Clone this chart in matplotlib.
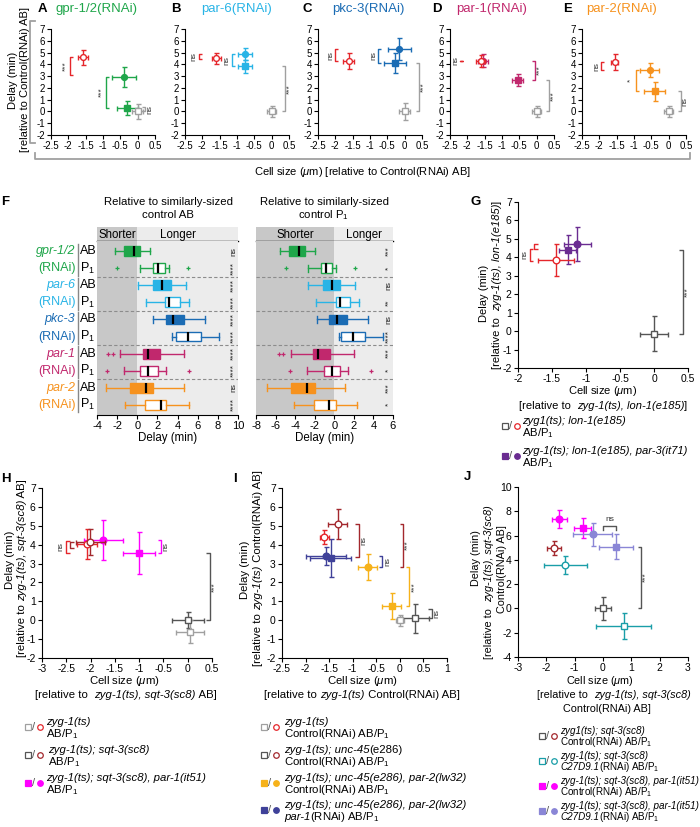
import matplotlib
matplotlib.use("Agg")
import matplotlib.pyplot as plt
from matplotlib.ticker import FuncFormatter

plt.rcParams["font.family"] = ["Liberation Sans", "DejaVu Sans"]
plt.rcParams["mathtext.fontset"] = "custom"
plt.rcParams["mathtext.rm"] = "Liberation Sans"
plt.rcParams["mathtext.it"] = "Liberation Sans:italic"
plt.rcParams["axes.unicode_minus"] = False
plt.rcParams["axes.linewidth"] = 0.8

W, H = 700, 827

# colours
RED = "#e5262b"
DKRED = "#a3282d"
LTGRAY = "#a0a0a0"
DKGRAY = "#555555"
GREEN = "#1fa64a"
CYAN = "#29b4e6"
BLUE = "#1b6cb4"
MAGENTA = "#c1286d"
ORANGE = "#f6921e"
PURPLE = "#6a2c91"
PINK = "#ff00ff"
GOLD = "#f6b21a"
NAVY = "#3f4199"
LAVENDER = "#8a86d6"
TEAL = "#1a9ea8"

# ---------------- top row (A-E) ----------------
TOP_LETTERS = ["A", "B", "C", "D", "E"]
TOP_TITLES = ["gpr-1/2(RNAi)", "par-6(RNAi)", "pkc-3(RNAi)", "par-1(RNAi)", "par-2(RNAi)"]
TOP_COLORS = [GREEN, CYAN, BLUE, MAGENTA, ORANGE]

# control P1 (open red circle)
ctrl_p1_x = [-1.57, -1.60, -1.62, -1.62, -1.55]
ctrl_p1_y = [4.60, 4.50, 4.28, 4.30, 4.20]
ctrl_p1_xerr = [0.15, 0.13, 0.16, 0.12, 0.10]
ctrl_p1_yerr = [0.62, 0.50, 0.64, 0.50, 0.70]
# RNAi P1 (filled circle)
rnai_p1_x = [-0.40, -0.78, -0.15, -1.55, -0.55]
rnai_p1_y = [2.95, 4.85, 5.30, 4.30, 3.50]
rnai_p1_xerr = [0.34, 0.20, 0.33, 0.15, 0.28]
rnai_p1_yerr = [0.85, 0.50, 0.90, 0.55, 0.60]
# RNAi AB (filled square)
rnai_ab_x = [-0.30, -0.78, -0.28, -0.55, -0.40]
rnai_ab_y = [0.30, 3.85, 4.12, 2.65, 1.70]
rnai_ab_xerr = [0.30, 0.20, 0.33, 0.15, 0.30]
rnai_ab_yerr = [0.62, 0.55, 0.82, 0.50, 0.80]
# control AB (open gray square)
ctrl_ab_x = [0.0, 0.0, 0.0, 0.0, 0.0]
ctrl_ab_y = [0.0, 0.0, 0.0, 0.0, 0.0]
ctrl_ab_xerr = [0.15, 0.13, 0.15, 0.13, 0.13]
ctrl_ab_yerr = [0.60, 0.50, 0.75, 0.50, 0.50]

# brackets: (x, y0, y1, who, label, side)
top_brackets = [
    [(-1.95, 3.1, 4.6, "ctrl", "***", "L"), (-0.92, 0.3, 2.95, "rnai", "***", "L"), (0.22, 0.0, 0.35, "gray", "ns", "R")],
    [(-2.1, 4.45, 4.88, "ctrl", "ns", "L"), (-1.15, 3.85, 4.85, "rnai", "ns", "L"), (0.38, 0.0, 3.85, "gray", "***", "R")],
    [(-2.0, 4.25, 5.3, "ctrl", "ns", "L"), (-0.77, 4.12, 5.3, "rnai", "ns", "L"), (0.42, 0.0, 4.12, "gray", "***", "R")],
    [(-2.2, 4.3, 4.3, "ctrl", "ns", "L"), (-0.05, 2.65, 4.3, "rnai", "***", "R"), (0.35, 0.0, 2.65, "gray", "***", "R")],
    [(-1.95, 3.5, 4.2, "ctrl", "ns", "L"), (-0.95, 1.7, 3.5, "rnai", "*", "L"), (0.35, 0.0, 1.7, "gray", "ns", "R")],
]

# ---------------- panel F ----------------
F_GROUPS = ["gpr-1/2", "par-6", "pkc-3", "par-1", "par-2"]
F_COLORS = [GREEN, CYAN, BLUE, MAGENTA, ORANGE]
F_ROWS = ["AB", "P$_1$"]

fl_whislo = [-2.2, 0.3, 0.07, 0.84, 1.6, 3.45, -1.7, -1.3, -3.1, -1.2]
fl_q1 = [-1.3, 1.57, 1.54, 2.78, 2.88, 3.8, 0.57, 0.23, -0.7, 0.74]
fl_med = [-0.37, 2.04, 2.48, 3.11, 3.58, 5.0, 1.07, 1.07, 0.87, 2.31]
fl_q3 = [0.23, 2.71, 3.32, 4.22, 4.59, 6.3, 2.24, 2.04, 1.57, 2.88]
fl_whishi = [1.24, 3.15, 4.82, 5.09, 6.73, 8.07, 4.65, 2.81, 4.65, 5.09]
fl_fliers = [[], [-1.98, 4.99], [], [], [], [], [-2.88, -2.44], [-3.05, 5.16], [], []]
fl_stats = ["ns", "****", "****", "****", "****", "****", "****", "****", "ns", "****"]

fr_whislo = [-5.5, -2.7, -2.7, -1.9, -1.8, 0.45, -4.4, -2.75, -6.9, -4.1]
fr_q1 = [-4.6, -1.4, -1.2, 0.15, -0.5, 0.65, -2.2, -1.1, -4.4, -2.1]
fr_med = [-3.65, -0.8, -0.25, 0.6, 0.3, 1.95, -1.65, -0.25, -2.75, -0.5]
fr_q3 = [-3.0, -0.25, 0.6, 1.6, 1.3, 3.1, -0.45, 0.6, -2.0, 0.15]
fr_whishi = [-1.95, 0.15, 2.15, 2.5, 3.45, 5.0, 2.0, 1.4, 1.1, 2.3]
fr_fliers = [[], [-4.9, 2.1], [], [], [], [], [-5.6, -5.2], [-4.5, 3.75], [], []]
fr_stats = ["***", "*", "ns", "**", "ns", "****", "***", "*", "***", "*"]

# ---------------- panel G ----------------
g_x = [-1.44, -1.27, -1.13, 0.0]
g_y = [3.85, 4.42, 4.72, -0.15]
g_xerr = [0.27, 0.12, 0.20, 0.20]
g_yerr = [0.87, 0.77, 0.93, 0.95]
g_style = [(RED, "o", False), (PURPLE, "s", True), (PURPLE, "o", True), (DKGRAY, "s", False)]
g_brackets = [(-1.83, 3.8, 4.45, RED, "ns", "L"), (-1.76, 4.45, 4.72, RED, "", "L"),
              (0.42, -0.15, 4.42, DKGRAY, "***", "R")]

# ---------------- panel H ----------------
h_x = [-2.07, -2.01, -1.74, -1.0, 0.0, 0.05]
h_y = [4.05, 4.15, 4.25, 3.55, 0.0, -0.6]
h_xerr = [0.20, 0.30, 0.40, 0.33, 0.33, 0.29]
h_yerr = [0.80, 0.70, 1.08, 1.10, 0.43, 0.60]
h_style = [(RED, "o", False), (DKRED, "o", False), (PINK, "o", True), (PINK, "s", True),
           (DKGRAY, "s", False), (LTGRAY, "s", False)]
h_brackets = [(-2.5, 3.55, 4.2, RED, "ns", "L"), (-2.42, 3.85, 4.15, DKRED, "", "L"),
              (-0.55, 3.55, 4.25, PINK, "ns", "R"), (0.45, 0.0, 3.55, DKGRAY, "***", "R")]

# ---------------- panel I ----------------
i_x = [-1.60, -1.32, -1.57, -1.47, -0.68, -0.17, 0.0, 0.33]
i_y = [4.40, 5.10, 3.40, 3.30, 2.80, 0.75, 0.0, 0.10]
i_xerr = [0.10, 0.20, 0.42, 0.43, 0.20, 0.20, 0.08, 0.29]
i_yerr = [0.37, 0.80, 0.50, 1.00, 0.68, 0.67, 0.30, 0.75]
i_style = [(RED, "o", False), (DKRED, "o", False), (NAVY, "o", True), (NAVY, "s", True),
           (GOLD, "o", True), (GOLD, "s", True), (LTGRAY, "s", False), (DKGRAY, "s", False)]
i_brackets = [(-0.87, 3.35, 5.1, DKRED, "ns", "R"), (-0.37, 2.8, 3.4, NAVY, "ns", "R"),
              (0.07, 2.8, 5.1, DKRED, "***", "R"), (0.2, 0.75, 2.8, GOLD, "***", "R"),
              (0.68, 0.1, 0.6, DKGRAY, "ns", "R")]

# ---------------- panel J ----------------
j_x = [-1.54, -0.72, -0.37, 0.46, -1.72, -1.34, 0.0, 0.73]
j_y = [7.36, 6.60, 6.10, 5.08, 4.95, 3.57, 0.0, -1.45]
j_xerr = [0.26, 0.29, 0.70, 0.60, 0.25, 0.76, 0.28, 0.96]
j_yerr = [0.75, 0.82, 0.92, 1.03, 0.59, 0.71, 0.96, 1.07]
j_style = [(PINK, "o", True), (PINK, "s", True), (LAVENDER, "o", True), (LAVENDER, "s", True),
           (DKRED, "o", False), (TEAL, "o", False), (DKGRAY, "s", False), (TEAL, "s", False)]
j_brackets = [(1.35, 0.0, 5.08, DKGRAY, "***", "R")]

fig = plt.figure(figsize=(7, 8.27), dpi=100)


def add_px(l, t, r, b):
    return fig.add_axes([l / W, 1 - b / H, (r - l) / W, (b - t) / H], facecolor="none")


def style_axes(ax, xlim, ylim, xticks, yticks, size):
    ax.set_xlim(*xlim)
    ax.set_ylim(*ylim)
    ax.set_xticks(xticks)
    ax.set_yticks(yticks)
    fmt = FuncFormatter(lambda v, p: f"{v:g}")
    ax.xaxis.set_major_formatter(fmt)
    ax.yaxis.set_major_formatter(fmt)
    ax.spines["top"].set_visible(False)
    ax.spines["right"].set_visible(False)
    ax.tick_params(direction="out", length=3, width=0.8, labelsize=size, pad=1.5)


def points(ax, xs, ys, xerrs, yerrs, styles, ms):
    for x, y, xe, ye, (c, m, filled) in zip(xs, ys, xerrs, yerrs, styles):
        ax.errorbar(x, y, xerr=xe, yerr=ye, fmt=m, ms=ms, mfc=c if filled else "white",
                    mec=c, mew=1.0, ecolor=c, elinewidth=1.0, capsize=1.8, capthick=1.0,
                    clip_on=False, zorder=3 if filled else 4)


def bracket(ax, x, y0, y1, color, label, side, tick_px=3.5, lab_px=5):
    pos = ax.get_position()
    x0, x1 = ax.get_xlim()
    ppu = pos.width * W / (x1 - x0)
    dx = tick_px / ppu
    lx = lab_px / ppu
    if side == "L":
        xs = [x + dx, x, x, x + dx]
        tx = x - lx
    else:
        xs = [x - dx, x, x, x - dx]
        tx = x + lx
    ax.plot(xs, [y0, y0, y1, y1], color=color, lw=1.0, clip_on=False, solid_capstyle="butt")
    if label:
        ax.text(tx, (y0 + y1) / 2, label, rotation=90, ha="center", va="center",
                fontsize=6, color="#333333", clip_on=False)


ov = fig.add_axes([0, 0, 1, 1], zorder=10)
ov.set_xlim(0, W)
ov.set_ylim(H, 0)
ov.axis("off")
ov.patch.set_visible(False)
REND = fig.canvas.get_renderer()


def rich(x, y, parts, size=8.2, rot=0, ha="left"):
    widths = []
    for s, it, c in parts:
        t = ov.text(0, 0, s, fontsize=size, fontstyle="italic" if it else "normal")
        widths.append(t.get_window_extent(renderer=REND).width)
        t.remove()
    total = sum(widths)
    pos = {"left": 0, "center": -total / 2, "right": -total}[ha]
    off = 0.34 * size * 100 / 72
    for (s, it, c), w in zip(parts, widths):
        kw = dict(fontsize=size, fontstyle="italic" if it else "normal", color=c,
                  va="baseline", ha="left", rotation_mode="anchor")
        if rot:
            ov.text(x + off, y - pos, s, rotation=90, **kw)
        else:
            ov.text(x + pos, y + off, s, **kw)
        pos += w


def N(s, c="black"):
    return (s, False, c)


def I(s, c="black"):
    return (s, True, c)


# ---------------- draw A-E ----------------
TOP_LEFTS = [51, 185, 318, 450, 582]
TITLE_X = [96, 237, 368, 492, 622]
LETTER_X = [42, 176, 307, 437, 568]
for k in range(5):
    ax = add_px(TOP_LEFTS[k], 29, TOP_LEFTS[k] + 104, 135)
    style_axes(ax, (-2.5, 0.5), (-2, 7), [-2.5, -2, -1.5, -1, -0.5, 0, 0.5], range(-2, 8), 7)
    col = TOP_COLORS[k]
    pts_style = [(RED, "o", False), (col, "o", True), (col, "s", True), (LTGRAY, "s", False)]
    points(ax,
           [ctrl_p1_x[k], rnai_p1_x[k], rnai_ab_x[k], ctrl_ab_x[k]],
           [ctrl_p1_y[k], rnai_p1_y[k], rnai_ab_y[k], ctrl_ab_y[k]],
           [ctrl_p1_xerr[k], rnai_p1_xerr[k], rnai_ab_xerr[k], ctrl_ab_xerr[k]],
           [ctrl_p1_yerr[k], rnai_p1_yerr[k], rnai_ab_yerr[k], ctrl_ab_yerr[k]],
           pts_style, 4.2)
    cmap = {"ctrl": RED, "rnai": col, "gray": LTGRAY}
    for bx, y0, y1, who, lab, side in top_brackets[k]:
        bracket(ax, bx, y0, y1, cmap[who], lab, side, tick_px=3, lab_px=4.5)
    ov.text(LETTER_X[k], 9, TOP_LETTERS[k], fontsize=9.5, fontweight="bold", ha="center", va="center")
    ov.text(TITLE_X[k], 9, TOP_TITLES[k], fontsize=9.5, color=col, ha="center", va="center")

ov.plot([35, 30, 30, 35], [21, 21, 143, 143], color=LTGRAY, lw=1.3)
ov.plot([35, 35, 690, 690], [153, 159, 159, 153], color=LTGRAY, lw=1.3)
rich(12, 80, [N("Delay (min)")], size=8, rot=90, ha="center")
rich(24, 80, [N("[relative to Control(RNAi) AB]")], size=8, rot=90, ha="center")
rich(362, 171, [N("Cell size ($\\mu$m) [relative to Control(RNAi) AB]")], size=8, ha="center")

# ---------------- draw F ----------------
def box_panel(left, right, xlim, xticks, shorter_x, longer_x, whislo, q1, med, q3, whishi,
              fliers, stats, stat_x):
    hx = add_px(left, 227, right, 241)
    ax = add_px(left, 241, right, 415)
    for a in (hx, ax):
        a.axvspan(xlim[0], 0, color="#c8c8c8", zorder=0, lw=0)
        a.axvspan(0, xlim[1], color="#ececec", zorder=0, lw=0)
        a.set_xlim(*xlim)
        for s in ("top", "right", "left"):
            a.spines[s].set_visible(False)
    hx.set_ylim(0, 1)
    hx.set_xticks([])
    hx.set_yticks([])
    hx.spines["bottom"].set_linewidth(1.0)
    hx.text(shorter_x, 0.45, "Shorter", ha="center", va="center", fontsize=8.3)
    hx.text(longer_x, 0.45, "Longer", ha="center", va="center", fontsize=8.3)
    ax.set_ylim(9.6, -0.6)
    ax.set_yticks([])
    ax.set_xticks(xticks)
    ax.tick_params(axis="x", direction="out", length=3, width=0.8, labelsize=8, pad=1.5)
    ax.set_xlabel("Delay (min)", fontsize=8.3, labelpad=0.5)
    for yy in (1.5, 3.5, 5.5, 7.5):
        ax.axhline(yy, color="#8c8c8c", lw=0.8, ls=(0, (3, 2)), zorder=1)
    for i in range(10):
        col = F_COLORS[i // 2]
        filled = i % 2 == 0
        st = [dict(med=med[i], q1=q1[i], q3=q3[i], whislo=whislo[i], whishi=whishi[i],
                   fliers=fliers[i])]
        kw = dict(positions=[i], widths=0.58, patch_artist=True, manage_ticks=False,
                  boxprops=dict(facecolor=col if filled else "white", edgecolor=col, linewidth=1.0),
                  medianprops=dict(color="black", linewidth=1.6),
                  whiskerprops=dict(color=col, linewidth=1.0),
                  capprops=dict(color=col, linewidth=1.0),
                  flierprops=dict(marker="+", markeredgecolor=col, markersize=3.5, markeredgewidth=0.9,
                                  linestyle="none"),
                  capwidths=0.38)
        try:
            ax.bxp(st, orientation="horizontal", **kw)
        except TypeError:
            ax.bxp(st, vert=False, **kw)
        ax.text(stat_x, i, stats[i], rotation=90, ha="center", va="center", fontsize=6,
                color="#222222")
    return ax


axl = box_panel(97, 238, (-4, 10), range(-4, 11, 2), -2, 4, fl_whislo, fl_q1, fl_med, fl_q3,
                fl_whishi, fl_fliers, fl_stats, 9.55)
axr = box_panel(256, 393, (-8, 6), range(-8, 7, 2), -4, 3, fr_whislo, fr_q1, fr_med, fr_q3,
                fr_whishi, fr_fliers, fr_stats, 5.6)

tr = axl.get_yaxis_transform()
for g in range(5):
    col = F_COLORS[g]
    axl.text(-0.153, 2 * g, F_GROUPS[g], transform=tr, ha="right", va="center", fontsize=9,
             fontstyle="italic", color=col)
    axl.text(-0.153, 2 * g + 1, "(RNAi)", transform=tr, ha="right", va="center", fontsize=9,
             color=col)
    axl.plot([-0.138, -0.138], [2 * g - 0.45, 2 * g + 1.45], transform=tr, color="#888888",
             lw=1.0, clip_on=False)
    for r in range(2):
        axl.text(-0.122, 2 * g + r, F_ROWS[r], transform=tr, ha="left", va="center", fontsize=9)

ov.text(5, 202, "F", fontsize=9.5, fontweight="bold", ha="center", va="center")
ov.text(168, 202, "Relative to similarly-sized", fontsize=8.2, ha="center", va="center")
ov.text(168, 215, "control AB", fontsize=8.2, ha="center", va="center")
ov.text(324, 202, "Relative to similarly-sized", fontsize=8.2, ha="center", va="center")
ov.text(324, 215, "control P$_1$", fontsize=8.2, ha="center", va="center")

# ---------------- G ----------------
axg = add_px(518, 202, 688, 368)
style_axes(axg, (-2, 0.5), (-2, 7), [-2, -1.5, -1, -0.5, 0, 0.5], range(-2, 8), 7.5)
points(axg, g_x, g_y, g_xerr, g_yerr, g_style, 4.8)
for b in g_brackets:
    bracket(axg, *b)
ov.text(476, 202, "G", fontsize=9.5, fontweight="bold", ha="center", va="center")
rich(483, 293, [N("Delay (min)")], size=8, rot=90, ha="center")
rich(496, 285, [N("[relative to  "), I("zyg-1(ts), lon-1(e185)"), N("]")], size=8, rot=90, ha="center")
rich(603, 390, [N("Cell size ($\\mu$m)")], size=8, ha="center")
rich(603, 405, [N("[relative to  "), I("zyg-1(ts), lon-1(e185)"), N("]")], size=8, ha="center")

# ---------------- H ----------------
axh = add_px(42, 488, 212, 658)
style_axes(axh, (-3, 0.5), (-2, 7), [-3, -2.5, -2, -1.5, -1, -0.5, 0, 0.5], range(-2, 8), 7.5)
points(axh, h_x, h_y, h_xerr, h_yerr, h_style, 4.8)
for b in h_brackets:
    bracket(axh, *b)
ov.text(6, 479, "H", fontsize=9.5, fontweight="bold", ha="center", va="center")
rich(9, 560, [N("Delay (min)")], rot=90, ha="center")
rich(21, 568, [N("[relative to "), I("zyg-1(ts), sqt-3(sc8)"), N(" AB]")], rot=90, ha="center")
rich(124, 680, [N("Cell size ($\\mu$m)")], ha="center")
rich(126, 694, [N("[relative to  "), I("zyg-1(ts), sqt-3(sc8)"), N(" AB]")], ha="center")

# ---------------- I ----------------
axi = add_px(282, 488, 447, 658)
style_axes(axi, (-2.5, 1), (-2, 7), [-2.5, -2, -1.5, -1, -0.5, 0, 0.5, 1], range(-2, 8), 7.5)
points(axi, i_x, i_y, i_xerr, i_yerr, i_style, 4.8)
for b in i_brackets:
    bracket(axi, *b)
ov.text(235, 479, "I", fontsize=9.5, fontweight="bold", ha="center", va="center")
rich(244, 570, [N("Delay (min)")], rot=90, ha="center")
rich(257, 568, [N("[relative to "), I("zyg-1(ts)"), N(" Control(RNAi) AB]")], rot=90, ha="center")
rich(362, 680, [N("Cell size ($\\mu$m)")], ha="center")
rich(362, 694, [N("[relative to "), I("zyg-1(ts)"), N(" Control(RNAi) AB]")], ha="center")

# ---------------- J ----------------
axj = add_px(518, 487, 688, 657)
style_axes(axj, (-3, 3), (-4, 10), range(-3, 4), range(-4, 11, 2), 7.5)
points(axj, j_x, j_y, j_xerr, j_yerr, j_style, 4.8)
for b in j_brackets:
    bracket(axj, *b)
axj.plot([0.0, 0.0, 0.46, 0.46], [6.45, 6.8, 6.8, 6.45], color=DKGRAY, lw=1.0)
axj.text(0.23, 7.0, "ns", ha="center", va="bottom", fontsize=6, color="#333333")
ov.text(467, 477, "J", fontsize=9.5, fontweight="bold", ha="center", va="center")
rich(475, 558, [N("Delay (min)")], size=7.8, rot=90, ha="center")
rich(488, 582, [N("[relative to  "), I("zyg-1(ts), sqt-3(sc8)")], size=7.8, rot=90, ha="center")
rich(501, 569, [N("Control(RNAi) AB]")], size=7.8, rot=90, ha="center")
rich(600, 680, [N("Cell size ($\\mu$m)")], size=7.8, ha="center")
rich(614, 694, [N("[relative to  "), I("zyg-1(ts), sqt-3(sc8)")], size=7.8, ha="center")
rich(607, 708, [N("Control(RNAi) AB]")], size=7.8, ha="center")


# ---------------- legends ----------------
def legend_entry(sx, tx, y1, sq, ci, line1, line2, size=8.2):
    gap = size * 1.48
    ys = y1 + gap / 2
    (sc, sf), (cc, cf) = sq, ci
    ov.plot([sx], [ys], marker="s", ms=4, mfc=sc if sf else "white", mec=sc, mew=0.9)
    ov.text(sx + 6, ys, "/", fontsize=8, ha="center", va="center", color=DKGRAY)
    ov.plot([sx + 12], [ys], marker="o", ms=4, mfc=cc if cf else "white", mec=cc, mew=0.9)
    rich(tx, y1, line1, size=size)
    rich(tx, y1 + gap, line2, size=size)


AB_P1 = [N("AB/P$_1$")]
CTRL_AB_P1 = [N("Control(RNAi) AB/P$_1$")]

legend_entry(505, 522, 420, (DKGRAY, False), (RED, False), [I("zyg1(ts); lon-1(e185)")], AB_P1, 8.1)
legend_entry(505, 522, 450, (PURPLE, True), (PURPLE, True),
             [I("zyg-1(ts); lon-1(e185), par-3(it71)")], AB_P1, 8.1)

legend_entry(28, 46, 721, (LTGRAY, False), (RED, False), [I("zyg-1(ts)")], AB_P1)
legend_entry(28, 48, 749, (DKGRAY, False), (DKRED, False), [I("zyg-1(ts); sqt-3(sc8)")], AB_P1)
legend_entry(28, 46, 777, (PINK, True), (PINK, True), [I("zyg-1(ts); sqt-3(sc8), par-1(it51)")], AB_P1)

legend_entry(264, 284, 721, (LTGRAY, False), (RED, False), [I("zyg-1(ts)")], CTRL_AB_P1)
legend_entry(264, 284, 749, (DKGRAY, False), (DKRED, False), [I("zyg-1(ts); unc-45"), N("(e286)")],
             CTRL_AB_P1)
legend_entry(264, 284, 777, (GOLD, True), (GOLD, True), [I("zyg-1(ts); unc-45(e286), par-2(lw32)")],
             CTRL_AB_P1)
legend_entry(264, 284, 804, (NAVY, True), (NAVY, True), [I("zyg-1(ts); unc-45(e286), par-2(lw32)")],
             [I("par-1"), N("(RNAi) AB/P$_1$")])

legend_entry(542, 560, 731, (DKGRAY, False), (DKRED, False), [I("zyg1(ts); sqt-3(sc8)")], CTRL_AB_P1, 7.1)
legend_entry(542, 560, 756, (TEAL, False), (TEAL, False), [I("zyg-1(ts); sqt-3(sc8)")],
             [I("C27D9.1"), N("(RNAi) AB/P$_1$")], 7.1)
legend_entry(542, 560, 781, (PINK, True), (PINK, True), [I("zyg-1(ts); sqt-3(sc8), par-1(it51)")],
             CTRL_AB_P1, 7.1)
legend_entry(542, 560, 806, (LAVENDER, True), (LAVENDER, True),
             [I("zyg-1(ts); sqt-3(sc8), par-1(it51)")], [I("C27D9.1"), N("(RNAi) AB/P$_1$")], 7.1)

fig.savefig("out.png", dpi=100)
